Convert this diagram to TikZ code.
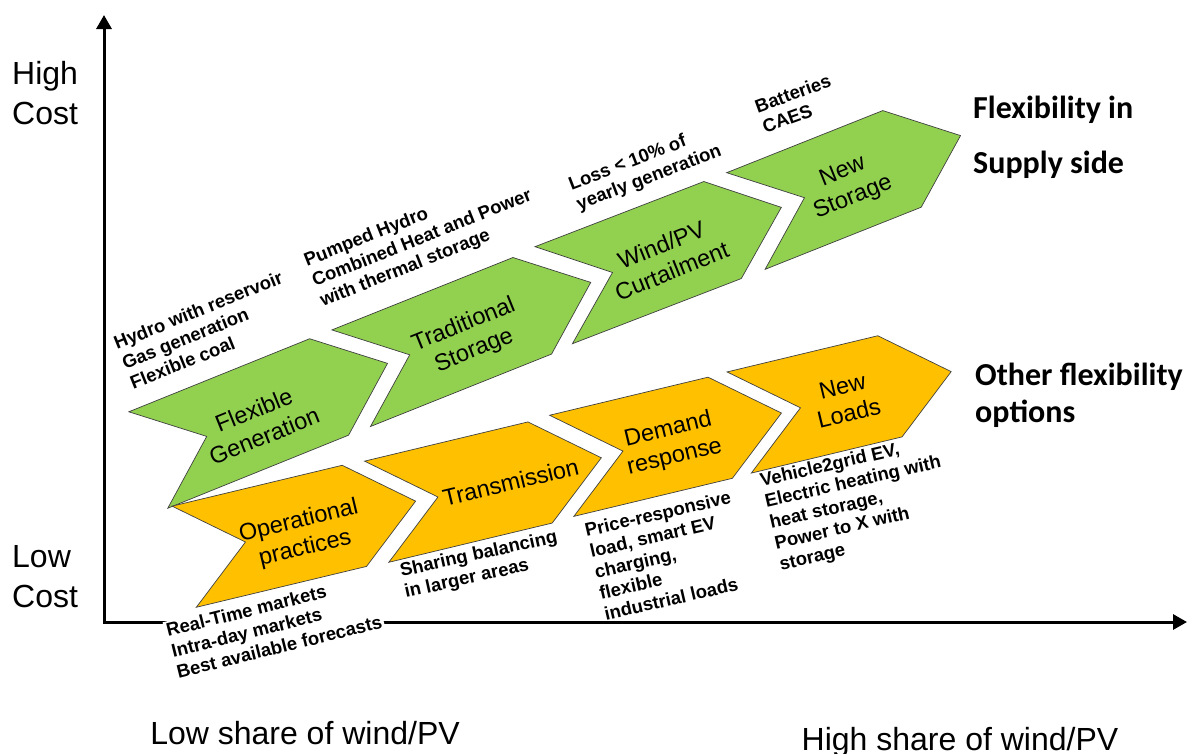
\documentclass[tikz,border=0pt]{standalone}
\usepackage{fontspec}
\setmainfont{Liberation Sans}
\newfontfamily\calibrifont{Carlito}
\usetikzlibrary{arrows.meta}
\definecolor{supplygreen}{RGB}{146,208,80}
\definecolor{otherorange}{RGB}{255,192,0}
\newcommand{\chevron}[5]{%
  \draw[#5,shift={(#1,#2)},rotate=#3] (0,-52) -- (63,0) -- (0,52) -- (#4,52) -- (#4+63,0) -- (#4,-52) -- cycle;}
\tikzset{
  greenchev/.style={fill=supplygreen,draw=black!75,line width=0.7pt},
  orangechev/.style={fill=otherorange,draw=black!75,line width=0.7pt},
  chevlabel/.style={align=center,font=\fontsize{23.5}{28}\selectfont,inner sep=0pt},
  notetext/.style={align=left,font=\bfseries\fontsize{18.5}{21.5}\selectfont,inner sep=0pt},
  axislabel/.style={align=left,font=\fontsize{32}{40}\selectfont,inner sep=0pt},
  axisline/.style={line width=3pt,{Triangle[length=14pt,width=15pt]}-{Triangle[length=14pt,width=15pt]}}
}
\begin{document}
\begin{tikzpicture}[x=1pt,y=-1pt]
\useasboundingbox (0,0) rectangle (1188,753);
\coordinate (ytop) at (104,15);
\coordinate (origin) at (104,622);
\coordinate (xend) at (1187,622);
\draw[axisline] (ytop) -- (origin) -- (xend);

\chevron{148.3}{460}{22}{195}{greenchev}
\chevron{351.2}{378.2}{21.8}{195}{greenchev}
\chevron{553.7}{295.2}{21.1}{181}{greenchev}
\chevron{745.9}{221}{21.7}{168}{greenchev}
\chevron{184.2}{556.7}{13.5}{175}{orangechev}
\chevron{376.7}{511.7}{13.5}{168}{orangechev}
\chevron{561.7}{465.8}{13.5}{163}{orangechev}
\chevron{739.2}{422.5}{13.5}{155}{orangechev}

\node[chevlabel,rotate=22] (flexgen) at (259,423) {Flexible\\Generation};
\node[chevlabel,rotate=22] (tradstor) at (469,338) {Traditional\\Storage};
\node[chevlabel,rotate=22] (curtail) at (666.5,258) {Wind/PV\\Curtailment};
\node[chevlabel,rotate=22] (newstor) at (848,185) {New\\Storage};
\node[chevlabel,rotate=13.5] (operat) at (302,535) {Operational\\practices};
\node[chevlabel,rotate=13.5] (transm) at (510.7,482.2) {Transmission};
\node[chevlabel,rotate=13.5] (demresp) at (671.5,443.7) {Demand\\response};
\node[chevlabel,rotate=13.5] (newload) at (845.7,400) {New\\Loads};

\node[notetext,rotate=22] (flexgennote) at (206.2,330) {Hydro with reservoir\\Gas generation\\Flexible coal};
\node[notetext,rotate=21.7] (tradstornote) at (422.2,238.9) {Pumped Hydro\\Combined Heat and Power\\with thermal storage};
\node[notetext,rotate=21] (curtailnote) at (645.4,168.3) {Loss < 10\% of\\yearly generation};
\node[notetext,rotate=20] (newstornote) at (796.6,103.5) {Batteries\\CAES};
\node[notetext,rotate=14,fill=white,inner sep=2pt] (operatnote) at (274.1,625.8) {Real-Time markets\\Intra-day markets\\Best available forecasts};
\node[notetext,rotate=12.5] (transmnote) at (481.1,565.4) {Sharing balancing\\in larger areas};
\node[notetext,rotate=13] (demrespnote) at (667.5,555.5) {Price-responsive\\load, smart EV\\charging,\\flexible\\industrial loads};
\node[notetext,rotate=13] (newloadnote) at (858,503.8) {Vehicle2grid EV,\\Electric heating with\\heat storage,\\Power to X with\\storage};

\node[axislabel,anchor=west] (highcost) at (12,93) {High\\Cost};
\node[axislabel,anchor=west] (lowcost) at (12,577) {Low\\Cost};
\node[font=\fontsize{32}{40}\selectfont,inner sep=0pt,anchor=base] (lowshare) at (305,744) {Low share of wind/PV};
\node[font=\fontsize{32}{40}\selectfont,inner sep=0pt,anchor=base] (highshare) at (960,750) {High share of wind/PV};

\node[align=left,font=\calibrifont\bfseries\fontsize{32}{55}\selectfont,inner sep=0pt,anchor=west] (supplyside) at (973,137) {Flexibility in\\Supply side};
\node[align=left,font=\calibrifont\bfseries\fontsize{32}{37}\selectfont,inner sep=0pt,anchor=west] (otherflex) at (975,395) {Other flexibility\\options};
\end{tikzpicture}
\end{document}
